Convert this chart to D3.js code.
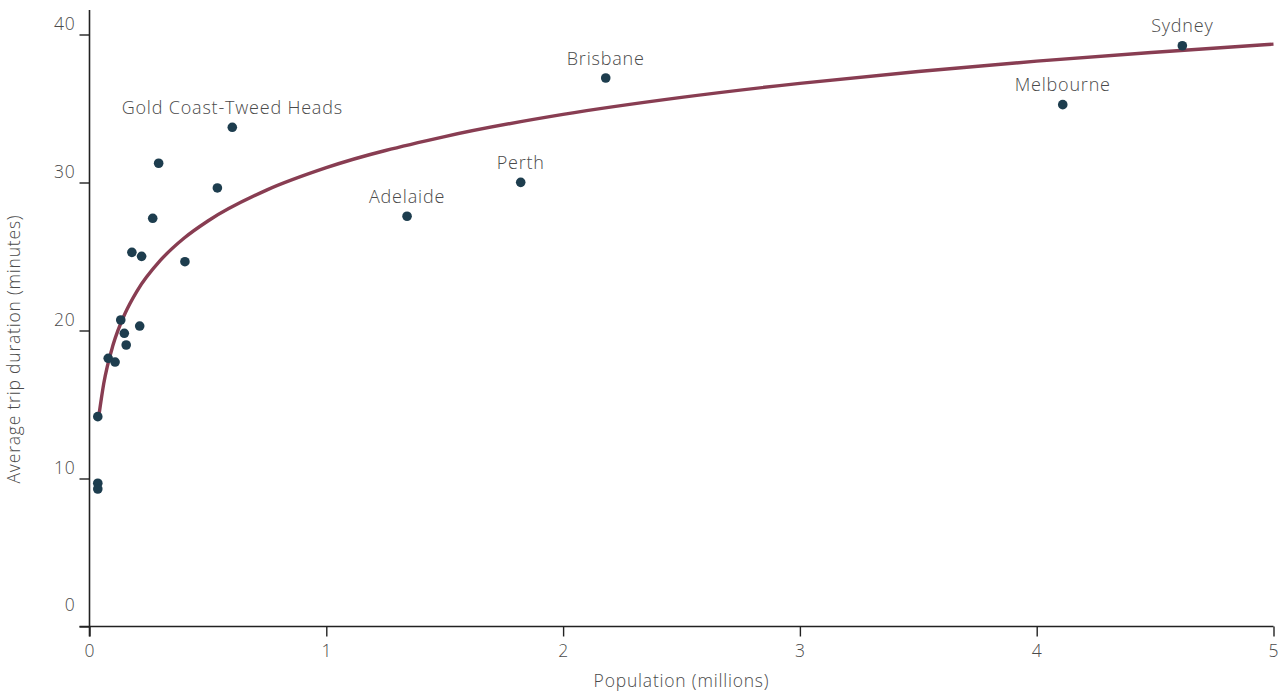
<!DOCTYPE html>
<html>
<head>
<meta charset="utf-8">
<script src="https://cdn.jsdelivr.net/npm/d3@7"></script>
<style>
  body { margin: 0; background: #fff; }
  svg { display: block; }
  text { font-family: "Open Sans", Lato, sans-serif; font-weight: 300; letter-spacing: 0.8px; }
</style>
</head>
<body>
<svg id="chart" width="1288" height="695"></svg>
<script>
// ---- data ----
const cityLabels = ["", "", "", "", "", "", "", "", "", "", "", "", "", "", "",
  "Gold Coast-Tweed Heads", "Adelaide", "Perth", "Brisbane", "Melbourne", "Sydney"];
const population = [0.035, 0.035, 0.035, 0.079, 0.108, 0.132, 0.147, 0.155, 0.212, 0.179,
  0.220, 0.267, 0.292, 0.403, 0.540, 0.603, 1.341, 1.821, 2.180, 4.110, 4.615];
const tripDuration = [14.18, 9.68, 9.29, 18.12, 17.87, 20.71, 19.81, 19.02, 20.30, 25.28,
  25.01, 27.58, 31.30, 24.65, 29.63, 33.73, 27.72, 30.01, 37.06, 35.26, 39.24];

// fitted trend line
const fitPopulation = [0.04, 0.06, 0.1, 0.15, 0.2, 0.3, 0.4, 0.5, 0.75, 1, 1.5, 2, 2.5, 3, 3.5, 4, 4.5, 5];
const fitDuration = [14.3, 16.4, 19.05, 21.15, 22.65, 24.75, 26.25, 27.4, 29.5, 31.0, 33.1, 34.6, 35.75, 36.7, 37.5, 38.2, 38.8, 39.35];

const xTicks = [0, 1, 2, 3, 4, 5];
const yTicks = [0, 10, 20, 30, 40];
const xTitle = "Population (millions)";
const yTitle = "Average trip duration (minutes)";

// ---- drawing ----
const svg = d3.select("#chart");
const x = d3.scaleLinear().domain([0, 5]).range([89.5, 1273.5]);
const y = d3.scaleLinear().domain([0, 40]).range([626.5, 34.5]);
const yTop = 41.65;

const axisColor = "#222";
const textColor = "#4a4a4a";
const fontFam = "'Open Sans', Lato, sans-serif";

// x axis
const xAxis = svg.append("g")
  .attr("transform", `translate(0,${y(0)})`)
  .call(d3.axisBottom(x).tickValues(xTicks).tickFormat(d3.format("d")).tickSize(10).tickSizeOuter(0).tickPadding(8));
xAxis.select(".domain").remove();
xAxis.selectAll(".tick line").attr("stroke", axisColor).attr("stroke-width", 1.4);
xAxis.selectAll(".tick text").attr("fill", textColor)
  .style("font-size", "17.5px").style("font-family", fontFam).style("font-weight", 300);

// y axis
const yAxis = svg.append("g")
  .attr("transform", `translate(${x(0)},0)`)
  .call(d3.axisLeft(y).tickValues(yTicks).tickFormat(d3.format("d")).tickSize(10).tickSizeOuter(0).tickPadding(4));
yAxis.select(".domain").remove();
yAxis.selectAll(".tick line").attr("stroke", axisColor).attr("stroke-width", 1.4);
yAxis.selectAll(".tick text")
  .attr("fill", textColor)
  .attr("dy", d => d === 0 ? "-0.9em" : "-0.3em")
  .style("font-size", "17.5px").style("font-family", fontFam).style("font-weight", 300);

// axis lines
svg.append("line")
  .attr("x1", x(0) - 10).attr("x2", x(5))
  .attr("y1", y(0)).attr("y2", y(0))
  .attr("stroke", axisColor).attr("stroke-width", 1.6);
svg.append("line")
  .attr("x1", x(0)).attr("x2", x(0))
  .attr("y1", y(0) + 10).attr("y2", y(yTop))
  .attr("stroke", axisColor).attr("stroke-width", 1.6);

// axis titles
svg.append("text")
  .attr("x", (x(0) + x(5)) / 2).attr("y", 687)
  .attr("text-anchor", "middle")
  .attr("fill", textColor).style("font-size", "17.5px")
  .text(xTitle);
svg.append("text")
  .attr("transform", `translate(20,349) rotate(-90)`)
  .attr("text-anchor", "middle")
  .attr("fill", textColor).style("font-size", "17.5px")
  .text(yTitle);

// trend line
const fitData = fitPopulation.map((p, i) => [p, fitDuration[i]]);
svg.append("path")
  .datum(fitData)
  .attr("fill", "none")
  .attr("stroke", "#883d52")
  .attr("stroke-width", 3.4)
  .attr("d", d3.line().x(d => x(d[0])).y(d => y(d[1])).curve(d3.curveMonotoneX));

// points
const pts = population.map((p, i) => ({ p, t: tripDuration[i], label: cityLabels[i] }));
svg.append("g").selectAll("circle")
  .data(pts).join("circle")
  .attr("cx", d => x(d.p)).attr("cy", d => y(d.t))
  .attr("r", 4.8)
  .attr("fill", "#1d3d4e");

// labels
svg.append("g").selectAll("text")
  .data(pts.filter(d => d.label)).join("text")
  .attr("x", d => x(d.p)).attr("y", d => y(d.t) - 13.5)
  .attr("text-anchor", "middle")
  .attr("fill", textColor).style("font-size", "18px")
  .text(d => d.label);
</script>
</body>
</html>
